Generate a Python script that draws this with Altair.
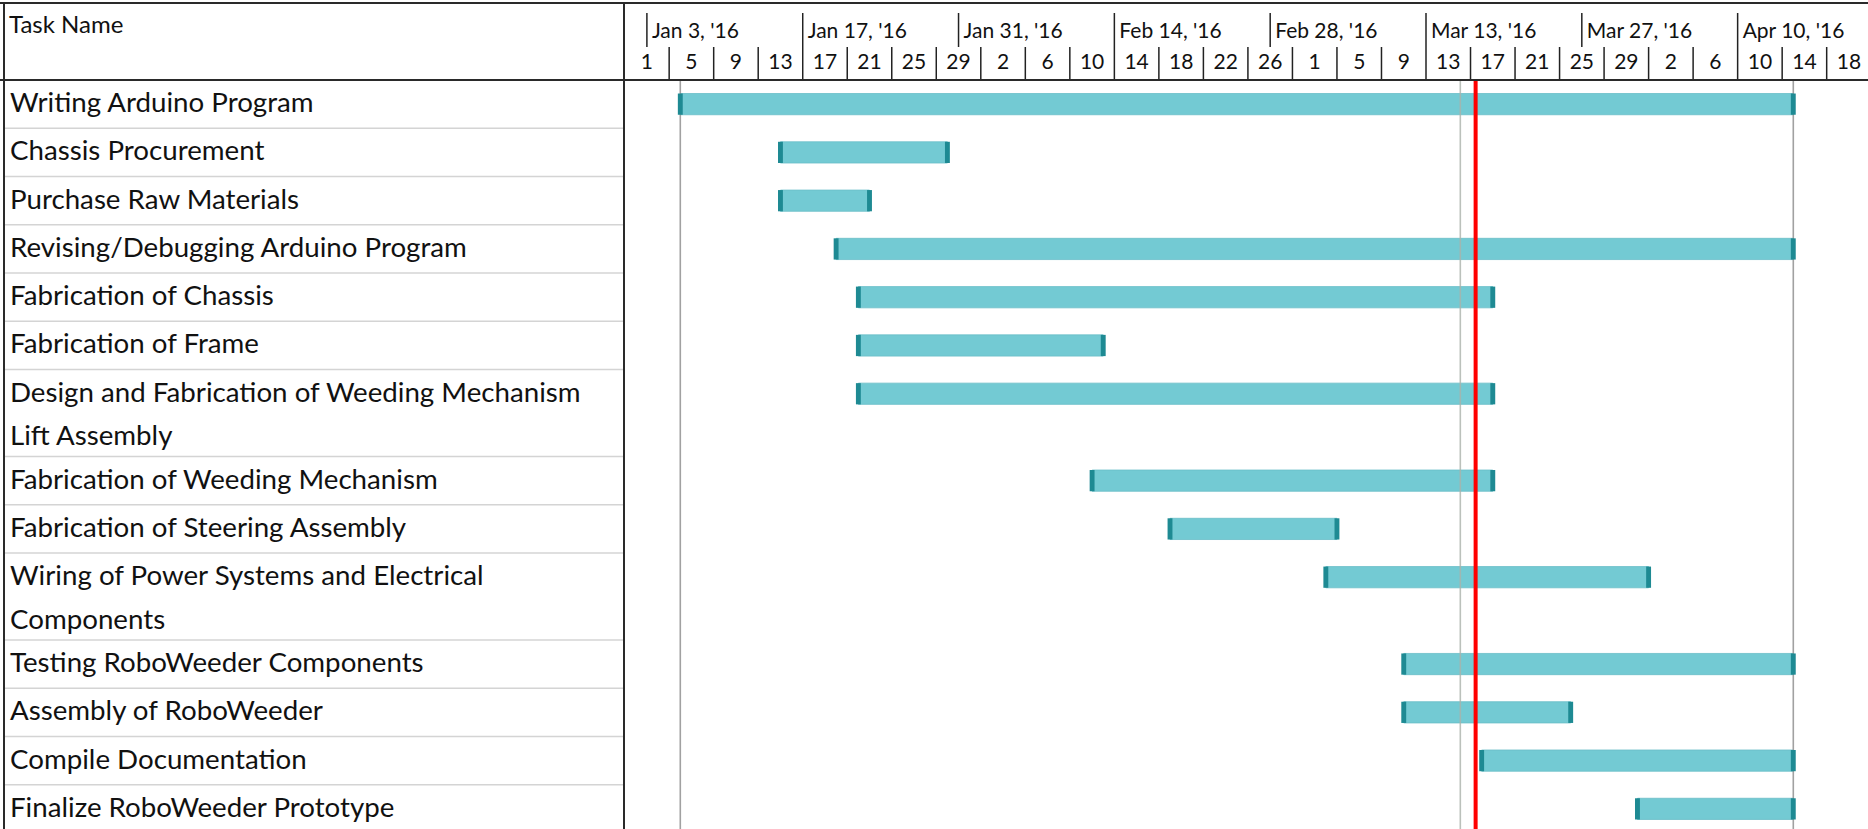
import altair as alt
import pandas as pd

# ---------------- data ----------------
tasks = [
    "Writing Arduino Program",
    "Chassis Procurement",
    "Purchase Raw Materials",
    "Revising/Debugging Arduino Program",
    "Fabrication of Chassis",
    "Fabrication of Frame",
    "Design and Fabrication of Weeding Mechanism\nLift Assembly",
    "Fabrication of Weeding Mechanism",
    "Fabrication of Steering Assembly",
    "Wiring of Power Systems and Electrical\nComponents",
    "Testing RoboWeeder Components",
    "Assembly of RoboWeeder",
    "Compile Documentation",
    "Finalize RoboWeeder Prototype",
]
start_dates = [
    "2016-01-06", "2016-01-15", "2016-01-15", "2016-01-20", "2016-01-22",
    "2016-01-22", "2016-01-22", "2016-02-12", "2016-02-19", "2016-03-04",
    "2016-03-11", "2016-03-11", "2016-03-18", "2016-04-01",
]
finish_dates = [
    "2016-04-14", "2016-01-29", "2016-01-22", "2016-04-14", "2016-03-18",
    "2016-02-12", "2016-03-18", "2016-03-18", "2016-03-04", "2016-04-01",
    "2016-04-14", "2016-03-25", "2016-04-14", "2016-04-14",
]
major_dates = ["2016-01-03", "2016-01-17", "2016-01-31", "2016-02-14",
               "2016-02-28", "2016-03-13", "2016-03-27", "2016-04-10"]
major_labels = ["Jan 3, '16", "Jan 17, '16", "Jan 31, '16", "Feb 14, '16",
                "Feb 28, '16", "Mar 13, '16", "Mar 27, '16", "Apr 10, '16"]
minor_labels = ["1", "5", "9", "13", "17", "21", "25", "29", "2", "6", "10",
                "14", "18", "22", "26", "1", "5", "9", "13", "17", "21", "25",
                "29", "2", "6", "10", "14", "18"]
grey_line_dates = ["2016-01-06", "2016-03-16T02:00", "2016-04-15"]
grey_line_colors = ["#8a8a8a", "#aab2aa", "#8a8a8a"]
status_date = "2016-03-17T11:00"

# ---------------- layout ----------------
W, H = 1868, 829
HEADER = 80
UNIT = 48.27
X0 = 624.64
PX_PER_DAY = 11.13
DAY_MAX = 112
ORIGIN = pd.Timestamp("2016-01-01")


def day(s):
    return (pd.Timestamp(s) - ORIGIN) / pd.Timedelta(days=1)


rows, labels, caps = [], [], []
top = 0.0
for i, name in enumerate(tasks):
    lines = name.split("\n")
    h = 1.0 if len(lines) == 1 else 1.8
    s = day(start_dates[i])
    e = day(finish_dates[i]) + 1
    c = top + 0.5
    rows.append(dict(task=name.replace("\n", " "), start=s, end=e,
                     y1=c - 0.22, y2=c + 0.22, bottom=top + h))
    for j, ln in enumerate(lines):
        labels.append(dict(text=ln, y=c + 0.9 * j))
    for p in (s, e):
        caps.append(dict(x1=p - 0.22, x2=p + 0.22, y1=c - 0.22, y2=c + 0.22))
    top += h

rows_df = pd.DataFrame(rows)
labels_df = pd.DataFrame(labels)
caps_df = pd.DataFrame(caps)
ymax = (H - HEADER) / UNIT
sep_df = pd.DataFrame({"y": [r["bottom"] for r in rows if r["bottom"] < ymax]})

major_df = pd.DataFrame({"d": [day(d) for d in major_dates], "label": major_labels})
minor_starts = pd.date_range("2016-01-01", periods=len(minor_labels), freq="4D")
minor_df = pd.DataFrame({"d": [day(d) for d in minor_starts], "label": minor_labels})
minor_df["c"] = minor_df["d"] + 2
grey_df = pd.DataFrame({"d": [day(d) for d in grey_line_dates], "col": grey_line_colors})
status_df = pd.DataFrame({"d": [day(status_date)]})

xs = alt.Scale(domain=[0, DAY_MAX], range=[X0, X0 + DAY_MAX * PX_PER_DAY], zero=False, nice=False)
ys = alt.Scale(domain=[0, ymax], range=[HEADER, H], zero=False, nice=False)

FONT = "Lato"
TXT = "#111111"

# table row separators
row_lines = alt.Chart(sep_df).mark_rule(color="#d4d4d4", strokeWidth=1.5).encode(
    y=alt.Y("y:Q", scale=ys, axis=None), x=alt.value(4), x2=alt.value(624))

task_text = alt.Chart(labels_df).mark_text(
    align="left", baseline="middle", font=FONT, fontSize=27.7, color=TXT).encode(
    x=alt.value(10), y=alt.Y("y:Q", scale=ys, axis=None), text="text:N")

header_title = alt.Chart(pd.DataFrame({"t": ["Task Name"]})).mark_text(
    align="left", baseline="middle", font=FONT, fontSize=24, color=TXT).encode(
    x=alt.value(9), y=alt.value(26), text="t:N")

bars = alt.Chart(rows_df).mark_rect(color="#73cad3", stroke="#69bec8", strokeWidth=0.8).encode(
    x=alt.X("start:Q", scale=xs, axis=None), x2="end:Q",
    y=alt.Y("y1:Q", scale=ys, axis=None), y2="y2:Q")

cap_marks = alt.Chart(caps_df).mark_rect(color="#1e8a93").encode(
    x=alt.X("x1:Q", scale=xs, axis=None), x2="x2:Q",
    y=alt.Y("y1:Q", scale=ys, axis=None), y2="y2:Q")

grey_lines = alt.Chart(grey_df).mark_rule(strokeWidth=1.6, opacity=0.8).encode(
    x=alt.X("d:Q", scale=xs, axis=None), y=alt.value(HEADER), y2=alt.value(H),
    color=alt.Color("col:N", scale=None))

status_line = alt.Chart(status_df).mark_rule(color="#ff0000", strokeWidth=4).encode(
    x=alt.X("d:Q", scale=xs, axis=None), y=alt.value(HEADER + 1), y2=alt.value(H))

major_ticks = alt.Chart(major_df).mark_rule(color="#222222", strokeWidth=1.5).encode(
    x=alt.X("d:Q", scale=xs, axis=None), y=alt.value(13), y2=alt.value(47))
major_text = alt.Chart(major_df).mark_text(
    align="left", baseline="middle", dx=5, font=FONT, fontSize=21, color=TXT).encode(
    x=alt.X("d:Q", scale=xs, axis=None), y=alt.value(32), text="label:N")

minor_ticks = alt.Chart(minor_df[minor_df["d"] > 0]).mark_rule(color="#222222", strokeWidth=1.5).encode(
    x=alt.X("d:Q", scale=xs, axis=None), y=alt.value(47), y2=alt.value(HEADER))
minor_text = alt.Chart(minor_df).mark_text(
    align="center", baseline="middle", font=FONT, fontSize=21, color=TXT).encode(
    x=alt.X("c:Q", scale=xs, axis=None), y=alt.value(63), text="label:N")

# frame lines
top_border = alt.Chart(pd.DataFrame({"a": [0]})).mark_rule(color="#2a2a2a", strokeWidth=2).encode(
    y=alt.value(3), x=alt.value(0), x2=alt.value(W))
header_bottom = alt.Chart(pd.DataFrame({"a": [0]})).mark_rule(color="#2a2a2a", strokeWidth=2).encode(
    y=alt.value(HEADER), x=alt.value(0), x2=alt.value(W))
left_border = alt.Chart(pd.DataFrame({"a": [0]})).mark_rule(color="#2a2a2a", strokeWidth=2).encode(
    x=alt.value(4), y=alt.value(3), y2=alt.value(H))
divider = alt.Chart(pd.DataFrame({"a": [0]})).mark_rule(color="#2a2a2a", strokeWidth=2).encode(
    x=alt.value(624), y=alt.value(3), y2=alt.value(H))

chart = alt.layer(
    row_lines, task_text, header_title,
    bars, grey_lines, cap_marks, status_line,
    major_ticks, major_text, minor_ticks, minor_text,
    top_border, header_bottom, left_border, divider,
).properties(
    width=W, height=H, padding=0,
    autosize=alt.AutoSizeParams(type="none"),
    background="white",
).configure_view(stroke=None)

chart.save("out.html", embed_options={"renderer": "svg", "actions": False})
